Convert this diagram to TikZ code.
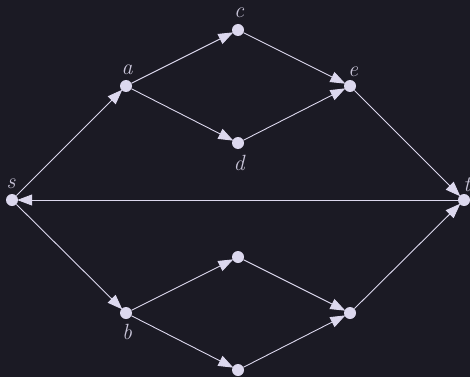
\documentclass[tikz,border=0pt]{standalone}
\usepackage{tikz}
\usetikzlibrary{arrows.meta,positioning}
\definecolor{bgdark}{RGB}{27,26,36}
\definecolor{edgecol}{RGB}{220,216,238}
\definecolor{lblcol}{RGB}{200,196,216}

\begin{document}
\begin{tikzpicture}[
  x=1pt, y=-1pt,
  vtx/.style={circle, fill=edgecol, inner sep=0pt, minimum size=12pt},
  lbl/.style={text=lblcol, font=\fontsize{22}{26}\selectfont\itshape, inner sep=0pt},
  arr/.style={-{Triangle[length=15pt,width=11pt]}, line width=0.9pt, edgecol, shorten >=-1pt}
]
\fill[bgdark] (0,0) rectangle (470,377);
\useasboundingbox (0,0) rectangle (470,377);
% vertices
\node[vtx] (s) at (12,200) {};
\node[vtx] (a) at (126,86) {};
\node[vtx] (c) at (238,30) {};
\node[vtx] (d) at (238,143) {};
\node[vtx] (e) at (350,86) {};
\node[vtx] (t) at (464,200) {};
\node[vtx] (b) at (126,313) {};
\node[vtx] (f) at (238,257) {};
\node[vtx] (g) at (238,370) {};
\node[vtx] (h) at (350,313) {};
% labels
\node[lbl] (ls) at (11,184) {s};
\node[lbl] (la) at (127,70) {a};
\node[lbl] (lc) at (239,13) {c};
\node[lbl] (ld) at (239,163) {d};
\node[lbl] (le) at (353,72) {e};
\node[lbl] (lt) at (467,185) {t};
\node[lbl] (lb) at (127,332) {b};
% edges
\draw[arr] (s) -- (a);
\draw[arr] (a) -- (c);
\draw[arr] (a) -- (d);
\draw[arr] (c) -- (e);
\draw[arr] (d) -- (e);
\draw[arr] (e) -- (t);
\draw[arr] (t) -- (s);
\draw[arr] (s) -- (b);
\draw[arr] (b) -- (f);
\draw[arr] (b) -- (g);
\draw[arr] (f) -- (h);
\draw[arr] (g) -- (h);
\draw[arr] (h) -- (t);
\end{tikzpicture}
\end{document}
